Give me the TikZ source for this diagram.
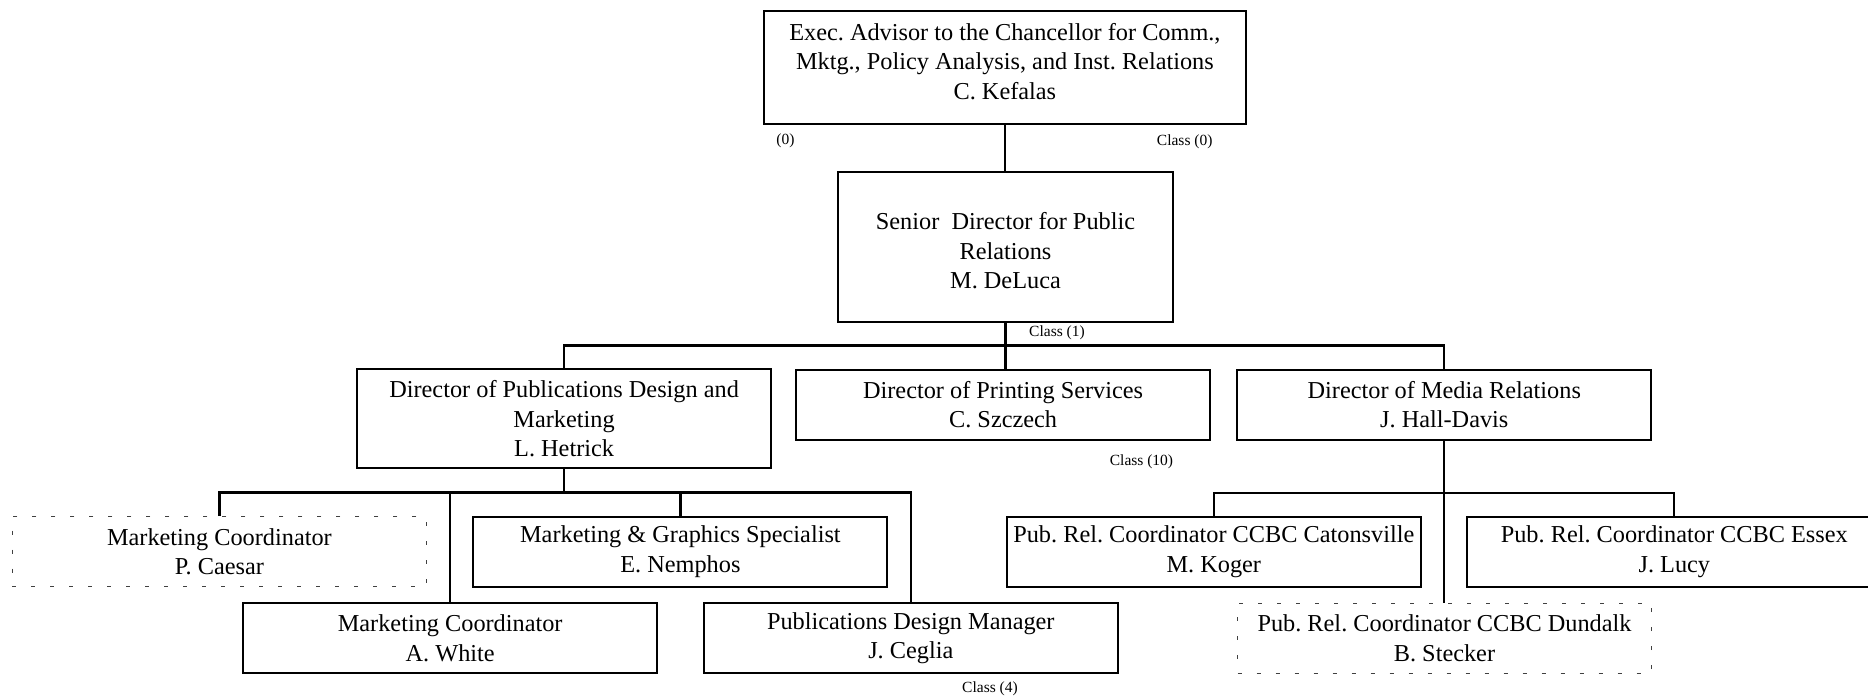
\documentclass[tikz,border=0pt]{standalone}
\usepackage{fontspec}
\setmainfont{Liberation Serif}
\frenchspacing
\begin{document}
\begin{tikzpicture}[x=1pt,y=-1pt,
  box/.style={draw, line width=2pt, minimum width=414pt, minimum height=70pt, align=center, inner sep=0pt, font=\fontsize{24.3}{29.5}\selectfont},
  dotbox/.style={box, draw=black!75, line width=1.3pt, dash pattern=on 4pt off 15pt},
  btext/.style={align=center, inner sep=0pt, font=\fontsize{24.3}{29.5}\selectfont},
  conn/.style={line width=2.2pt},
  lbl/.style={font=\fontsize{15.5}{17}\selectfont, inner sep=0pt}]
\path[use as bounding box] (0,0) rectangle (1868,697);
\clip (0,0) rectangle (1868,697);
% boxes
\node[box, minimum width=482.5pt, minimum height=113pt] (exec) at (1004.9,67.5) {};
\node[btext] (exectext) at (1004.9,61.5) {Exec. Advisor to the Chancellor for Comm.,\\Mktg., Policy Analysis, and Inst. Relations\\C. Kefalas};
\node[box, minimum width=335pt, minimum height=150pt] (senior) at (1005.5,247) {};
\node[btext] (seniortext) at (1005.5,251) {Senior\ \ Director for Public\\Relations\\M. DeLuca};
\node[box, minimum height=99pt] (hetrick) at (564.1,418.9) {Director of Publications Design and\\Marketing\\L. Hetrick};
\node[box] (printing) at (1003.1,404.7) {Director of Printing Services\\C. Szczech};
\node[box] (media) at (1444.3,404.7) {Director of Media Relations\\J. Hall-Davis};
\node[dotbox] (caesar) at (219.4,551.7) {Marketing Coordinator\\P. Caesar};
\node[box] (nemphos) at (680.4,551.7) {Marketing \& Graphics Specialist\\E. Nemphos};
\node[box] (white) at (450.2,638.2) {Marketing Coordinator\\A. White};
\node[box] (ceglia) at (910.8,638.2) {Publications Design Manager\\J. Ceglia};
\node[box] (caton) at (1213.8,551.7) {Pub. Rel. Coordinator CCBC Catonsville\\M. Koger};
\node[box] (essex) at (1674.3,551.7) {Pub. Rel. Coordinator CCBC Essex\\J. Lucy};
\node[dotbox] (dundalk) at (1444.5,638.2) {Pub. Rel. Coordinator CCBC Dundalk\\B. Stecker};
% bus levels
\coordinate (bus1) at (0,345.5);
\coordinate (bus2) at (0,492.5);
\coordinate (bus3) at (0,493.3);
% connectors
\draw[conn] (exec.south) -- (exec.south |- senior.north);
\draw[conn] (senior.south) -- (senior.south |- printing.north);
\draw[conn] (hetrick.north) -- (hetrick.north |- bus1) -- (media.north |- bus1) -- (media.north);
\draw[conn] (hetrick.south) -- (hetrick.south |- bus2);
\draw[conn] (caesar.north) -- (caesar.north |- bus2) -- (ceglia.north |- bus2) -- (ceglia.north);
\draw[conn] (white.north |- bus2) -- (white.north);
\draw[conn] (nemphos.north |- bus2) -- (nemphos.north);
\draw[conn] (media.south) -- (media.south |- dundalk.north);
\draw[conn] (caton.north) -- (caton.north |- bus3) -- (essex.north |- bus3) -- (essex.north);
% labels
\node[lbl] (l0) at (785.5,141) {(0)};
\node[lbl] (c0) at (1184.7,142) {Class (0)};
\node[lbl] (c1) at (1057,333) {Class (1)};
\node[lbl] (c10) at (1141.5,462) {Class (10)};
\node[lbl] (c4) at (990,689) {Class (4)};
\end{tikzpicture}
\end{document}
